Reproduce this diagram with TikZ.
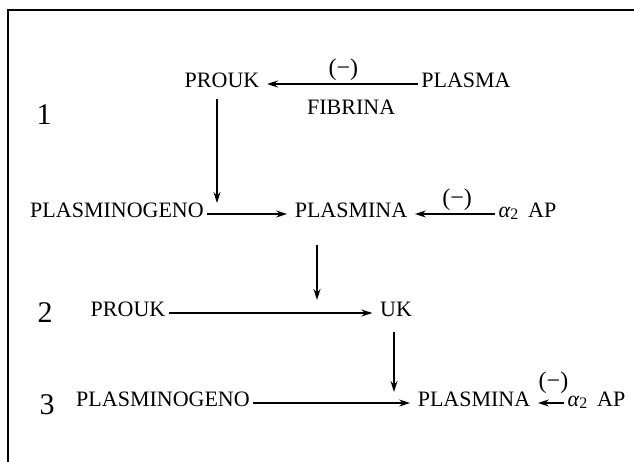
\documentclass[tikz,border=0pt]{standalone}
\usepackage{fontspec}
\setmainfont{Liberation Serif}
\usetikzlibrary{arrows.meta}

\begin{document}
\begin{tikzpicture}
            [x=1pt, y=-1pt, ->, >={Stealth[length=11pt,width=7pt]}, shorten >=4pt, line width=1.4pt,
             every node/.style={font=\fontsize{22}{26}\selectfont, inner sep=3pt},
             term/.style={text height=0.662em, text depth=0pt},
             stage/.style={font=\fontsize{30}{34}\selectfont},
             inhib/.style={font=\fontsize{24}{28}\selectfont}]
            \useasboundingbox (0,0) rectangle (634,462);
            \draw[-, shorten >=0pt, line width=1.5pt] (8,462) -- (8,10) -- (634,10);

            \node[stage] (n1) at (44, 115) {1};
            \node[stage] (n2) at (45, 313) {2};
            \node[stage] (n3) at (47, 405) {3};

            \node[term] (prouk1) at (222, 84) {PROUK};
            \node[term] (plasma1) at (466, 84) {PLASMA};
            \node[term] (plasminogeno2) at (117, 214) {PLASMINOGENO};
            \node[term] (plasmina2) at (351, 214) {PLASMINA};
            \node[term, anchor=west] (aap2) at (495, 214) {{\itshape α}\raisebox{-0.08em}{\fontsize{16}{16}\selectfont 2}\hspace{0.45em}AP};
            \node[term] (prouk3) at (128, 313) {PROUK};
            \node[term] (uk3) at (396, 313) {UK};
            \node[term] (plasminogeno4) at (163, 403) {PLASMINOGENO};
            \node[term] (plasmina4) at (474, 403) {PLASMINA};
            \node[term, anchor=west] (aap4) at (564, 403) {{\itshape α}\raisebox{-0.08em}{\fontsize{16}{16}\selectfont 2}\hspace{0.45em}AP};

            \coordinate (j1) at (217, 214);
            \coordinate (j2) at (317, 313);
            \coordinate (j3) at (394, 403);

            \path [->] (plasma1) edge node[inhib, above, pos=.48] {(−)} node[below=12pt, pos=.43] {FIBRINA} (prouk1);
            \path [->] (plasminogeno2) edge (plasmina2);
            \path [->] (aap2) edge node[inhib, above, pos=.45] {(−)} (plasmina2);
            \path [->] (prouk3) edge (uk3);
            \path [->] (plasminogeno4) edge (plasmina4);
            \path [->] (aap4) edge node[inhib, above=6pt, pos=.35] {(−)} (plasmina4);

            \draw [->, shorten <=8pt, shorten >=11pt] (prouk1.south -| j1) -- (j1);
            \draw [->, shorten <=24pt, shorten >=13pt] (plasmina2.south -| j2) -- (j2);
            \draw [->, shorten <=12pt, shorten >=11pt] (uk3.south -| j3) -- (j3);
        \end{tikzpicture}
\end{document}
